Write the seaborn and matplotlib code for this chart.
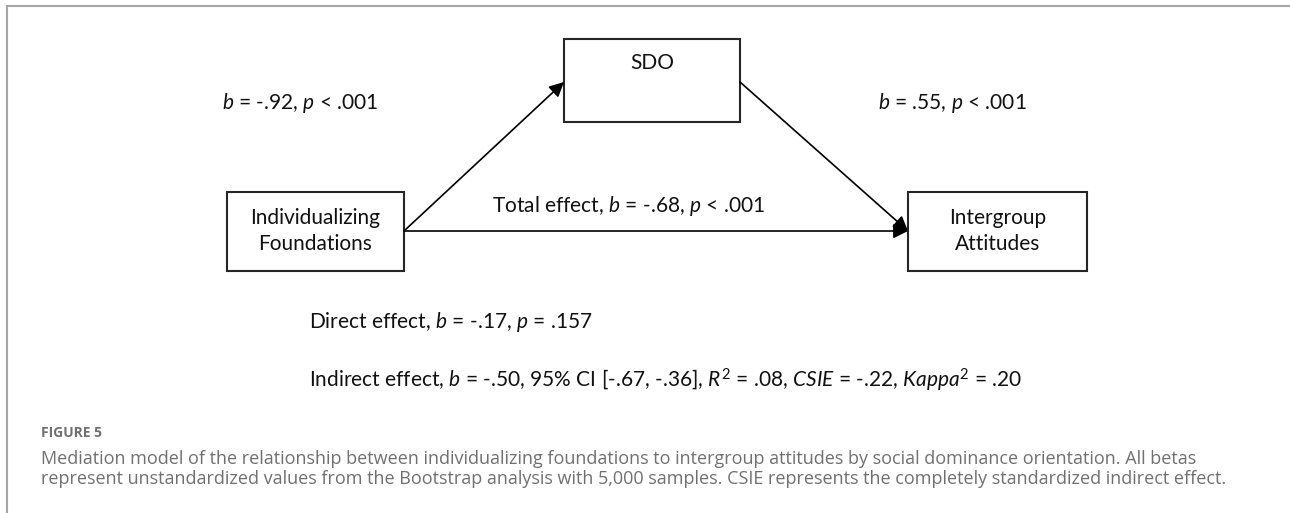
import matplotlib
matplotlib.use("Agg")
import matplotlib.pyplot as plt
import seaborn as sns
from matplotlib.patches import Rectangle

# model values
nodes = ["Individualizing\nFoundations", "SDO", "Intergroup\nAttitudes"]
path_b = [-0.92, 0.55]          # a path, b path
total_b = -0.68
direct_b = -0.17
direct_p = 0.157
indirect_b = -0.50
indirect_ci = [-0.67, -0.36]
r2 = 0.08
csie = -0.22
kappa2 = 0.20
fig_label = "FIGURE 5"
caption = ["Mediation model of the relationship between individualizing foundations to intergroup attitudes by social dominance orientation. All betas",
           "represent unstandardized values from the Bootstrap analysis with 5,000 samples. CSIE represents the completely standardized indirect effect."]


def fmt(v):
    return f"{v:.2f}".replace("0.", ".")


sns.set_theme(style="white")
plt.rcParams["font.family"] = ["Lato", "DejaVu Sans"]
plt.rcParams["mathtext.fontset"] = "custom"
plt.rcParams["mathtext.rm"] = "Lato"
plt.rcParams["mathtext.it"] = "Lato:italic"

fig = plt.figure(figsize=(12.9, 5.13), dpi=100)
ax = fig.add_axes([0, 0, 1, 1])
ax.set_xlim(0, 1290)
ax.set_ylim(513, 0)
ax.axis("off")

# frame
ax.plot([7, 7], [6, 513], color="#a6a6a6", lw=1.5)
ax.plot([7, 1290], [6, 6], color="#a6a6a6", lw=1.5)

fs = 15
ec = "#262626"
# boxes
boxes = [(227, 192, 177, 79), (564, 39, 176, 83), (908, 192, 179, 79)]
for (x, y, w, h) in boxes:
    ax.add_patch(Rectangle((x, y), w, h, fill=False, edgecolor=ec, lw=1.5))

ax.text(315.5, 231, nodes[0], ha="center", va="center", fontsize=fs, linespacing=1.35, color="#111")
ax.text(652, 63, nodes[1], ha="center", va="center", fontsize=fs, color="#111")
ax.text(997.5, 231, nodes[2], ha="center", va="center", fontsize=fs, linespacing=1.35, color="#111")

# arrows
arr = dict(arrowstyle="-|>", color="black", lw=1.2, mutation_scale=22, shrinkA=0, shrinkB=0)
ax.annotate("", xy=(564, 82), xytext=(404, 231), arrowprops=arr)
ax.annotate("", xy=(908, 231), xytext=(740, 82), arrowprops=arr)
ax.annotate("", xy=(908, 231), xytext=(404, 231), arrowprops=arr)

# path labels
ax.text(300, 103, r"$\mathit{b}$ = " + fmt(path_b[0]) + r", $\mathit{p}$ < .001",
        ha="center", va="center", fontsize=fs, color="#111")
ax.text(952, 103, r"$\mathit{b}$ = " + fmt(path_b[1]) + r", $\mathit{p}$ < .001",
        ha="center", va="center", fontsize=fs, color="#111")
ax.text(492, 206, r"Total effect, $\mathit{b}$ = " + fmt(total_b) + r", $\mathit{p}$ < .001",
        ha="left", va="center", fontsize=fs, color="#111")
ax.text(309, 322, r"Direct effect, $\mathit{b}$ = " + fmt(direct_b) + r", $\mathit{p}$ = " + f"{direct_p:.3f}".replace("0.", "."),
        ha="left", va="center", fontsize=fs, color="#111")
ax.text(309, 380,
        r"Indirect effect, $\mathit{b}$ = " + fmt(indirect_b) + ", 95% CI [" + fmt(indirect_ci[0]) + ", " + fmt(indirect_ci[1]) + "], "
        + r"$\mathit{R}^{2}$ = " + fmt(r2) + r", $\mathit{CSIE}$ = " + fmt(csie) + r", $\mathit{Kappa}^{2}$ = " + fmt(kappa2),
        ha="left", va="center", fontsize=fs, color="#111")

# caption
cap_font = ["Open Sans", "DejaVu Sans"]
ax.text(41, 437, fig_label, ha="left", va="baseline", fontsize=10, fontweight="bold",
        color="#707070", family=cap_font)
ax.text(41, 464, caption[0], ha="left", va="baseline", fontsize=13, color="#707070", family=cap_font)
ax.text(41, 484, caption[1], ha="left", va="baseline", fontsize=13, color="#707070", family=cap_font)

fig.savefig("out.png", dpi=100)
